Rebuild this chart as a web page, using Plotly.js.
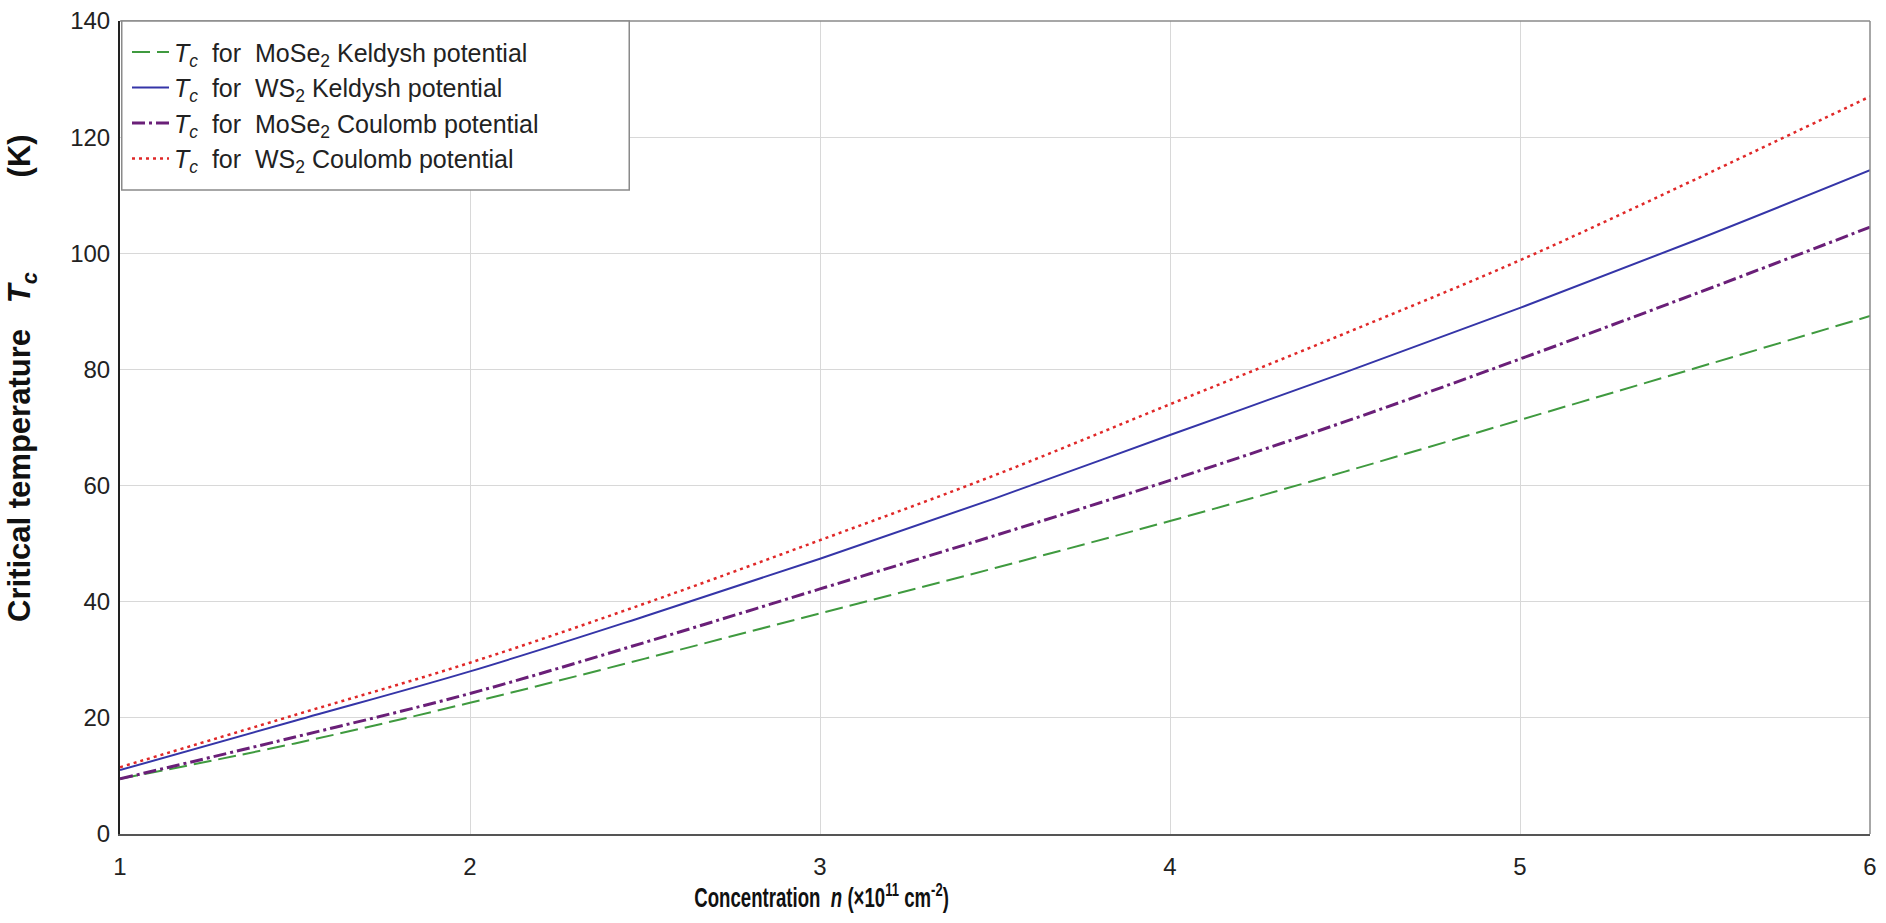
<!DOCTYPE html>
<html>
<head>
<meta charset="utf-8">
<script src="https://cdn.plot.ly/plotly-3.0.1.min.js"></script>
<style>html,body{margin:0;padding:0;background:#fff;}#chart{width:1886px;height:923px;}</style>
</head>
<body>
<div id="chart"></div>
<script>
// Concentration n (x10^11 cm^-2)
const concentration = [1, 1.5, 2, 2.5, 3, 3.5, 4, 4.5, 5, 5.5, 6];
// Critical temperature Tc (K)
const tcMoSe2Keldysh = [9.5, 15.6, 22.6, 30.2, 38.0, 45.8, 53.9, 62.4, 71.3, 80.2, 89.2];
const tcWS2Keldysh   = [11.0, 19.5, 28.0, 37.5, 47.4, 57.8, 68.7, 79.5, 90.6, 102.2, 114.3];
const tcMoSe2Coulomb = [9.5, 16.7, 24.2, 33.0, 42.2, 51.4, 60.9, 71.0, 81.8, 93.0, 104.5];
const tcWS2Coulomb   = [11.5, 20.5, 29.5, 39.7, 50.6, 61.8, 74.0, 86.2, 98.8, 112.7, 127.0];
const seriesNames = [
  "<i>T<sub>c</sub></i>\u00a0 for\u00a0 MoSe<sub>2</sub> Keldysh potential",
  "<i>T<sub>c</sub></i>\u00a0 for\u00a0 WS<sub>2</sub> Keldysh potential",
  "<i>T<sub>c</sub></i>\u00a0 for\u00a0 MoSe<sub>2</sub> Coulomb potential",
  "<i>T<sub>c</sub></i>\u00a0 for\u00a0 WS<sub>2</sub> Coulomb potential"
];
const xTickVals = [1, 2, 3, 4, 5, 6];
const yTickVals = [0, 20, 40, 60, 80, 100, 120, 140];
const xTitle = "<b>Concentration\u00a0 <i>n</i> (×10<sup>11</sup> cm<sup>-2</sup>)</b>";
const yTitle = "<b>Critical temperature" + "\u00a0".repeat(3) + "<i>T<sub>c</sub></i>" + "\u00a0".repeat(11) + "(K)</b>";

const FONT = "Liberation Sans, Arial, sans-serif";

const traces = [
  {x: concentration, y: tcMoSe2Keldysh, name: seriesNames[0], mode: "lines",
   line: {color: "#3f9a3f", width: 2, dash: "18px,7px", shape: "spline"}},
  {x: concentration, y: tcWS2Keldysh, name: seriesNames[1], mode: "lines",
   line: {color: "#3535a8", width: 2, shape: "spline"}},
  {x: concentration, y: tcMoSe2Coulomb, name: seriesNames[2], mode: "lines",
   line: {color: "#6a1f78", width: 3, dash: "13px,4px,3px,4px", shape: "spline"}},
  {x: concentration, y: tcWS2Coulomb, name: seriesNames[3], mode: "lines",
   line: {color: "#e02828", width: 2.5, dash: "3px,4px", shape: "spline"}}
];

const layout = {
  width: 1886, height: 923,
  margin: {l: 120, r: 16, t: 21, b: 89},
  paper_bgcolor: "#fff", plot_bgcolor: "#fff",
  font: {family: FONT, color: "#222", size: 24},
  showlegend: true,
  legend: {
    x: 0.004, y: 0.99, xanchor: "left", yanchor: "top",
    bgcolor: "rgba(0,0,0,0)", borderwidth: 0,
    font: {family: FONT, size: 25, color: "#222"},
    itemwidth: 37, tracegroupgap: 0
  },
  xaxis: {
    range: [1, 6], tickvals: xTickVals, ticks: "", showgrid: true,
    gridcolor: "#d8d8d8", gridwidth: 1, zeroline: false,
    showline: true, linecolor: "#555", linewidth: 2,
    tickfont: {size: 24, family: FONT, color: "#222"}, ticklabelstandoff: 10
  },
  yaxis: {
    range: [0, 140], tickvals: yTickVals, ticks: "", showgrid: true,
    gridcolor: "#d8d8d8", gridwidth: 1, zeroline: false,
    showline: true, linecolor: "#222", linewidth: 2,
    tickfont: {size: 24, family: FONT, color: "#222"}, ticklabelstandoff: 3
  },
  annotations: [
    {text: xTitle, xref: "paper", yref: "paper", x: 0.4006, y: -0.0763,
     xanchor: "center", yanchor: "middle", showarrow: false,
     font: {size: 27, family: FONT, color: "#111"}},
    {text: yTitle, xref: "paper", yref: "paper", x: -0.056, y: 0.561,
     xanchor: "center", yanchor: "middle", showarrow: false, textangle: -90,
     font: {size: 31, family: FONT, color: "#111"}}
  ],
  shapes: [
    {type: "line", xref: "paper", yref: "paper", x0: 0, x1: 1, y0: 1, y1: 1,
     line: {color: "#8a8a8a", width: 1.5}},
    {type: "line", xref: "paper", yref: "paper", x0: 1, x1: 1, y0: 0, y1: 1,
     line: {color: "#8a8a8a", width: 1.5}},
    {type: "rect", xref: "paper", yref: "paper", x0: 0.001, x1: 0.291, y0: 0.792, y1: 1,
     fillcolor: "#fff", layer: "above", line: {color: "#8a8a8a", width: 1.5}}
  ]
};

Plotly.newPlot("chart", traces, layout, {displayModeBar: false, staticPlot: true}).then(function (gd) {
  // condense the x-axis title horizontally (the reference uses a narrow bold face)
  const t = gd.querySelector('g.annotation[data-index="0"] text.annotation-text');
  if (t) {
    t.style.transformBox = "fill-box";
    t.style.transformOrigin = "center";
    t.style.transform = "scaleX(0.69)";
  }
});
</script>
</body>
</html>
